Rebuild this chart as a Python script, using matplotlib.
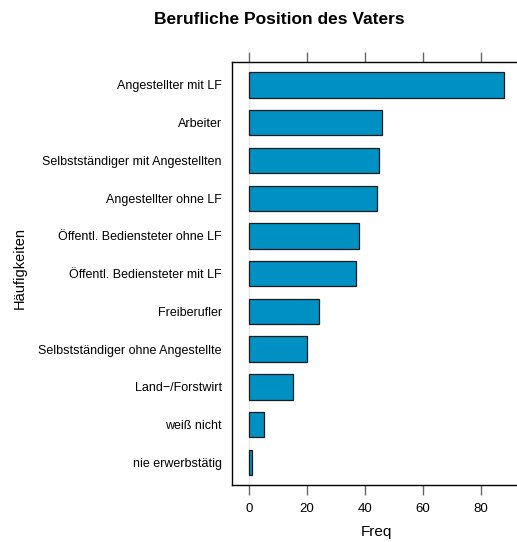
import matplotlib
matplotlib.use("Agg")
import matplotlib.pyplot as plt

plt.rcParams['font.family'] = ['Liberation Sans', 'DejaVu Sans']

# Beruf des Vaters, Häufigkeiten (von unten nach oben)
categories = [
    "nie erwerbstätig",
    "weiß nicht",
    "Land\u2212/Forstwirt",
    "Selbstständiger ohne Angestellte",
    "Freiberufler",
    "Öffentl. Bediensteter mit LF",
    "Öffentl. Bediensteter ohne LF",
    "Angestellter ohne LF",
    "Selbstständiger mit Angestellten",
    "Arbeiter",
    "Angestellter mit LF",
]
freq = [1, 5, 15, 20, 24, 37, 38, 44, 45, 46, 88]
xticks = [0, 20, 40, 60, 80]

W, H = 517, 542
fig = plt.figure(figsize=(W / 100, H / 100), dpi=100)
left, right = 231.7, 521.5
top, bottom = 62.3, 485.0
ax = fig.add_axes([left / W, 1 - bottom / H, (right - left) / W, (bottom - top) / H])

ax.axvline(0, color='#e6e6e6', lw=1, zorder=0)
pos = list(range(len(categories)))
ax.barh(pos, freq, height=0.67, color='#0091c4', edgecolor='#1a1a1a', lw=0.9, zorder=2)

ax.set_xlim(-6.1, 94.1)
ax.set_ylim(-0.6, len(categories) - 0.4)
ax.set_yticks(pos)
ax.set_yticklabels(categories, fontsize=9)
ax.tick_params(axis='y', length=0, pad=7)
ax.set_xticks(xticks)
ax.tick_params(axis='x', which='both', top=True, bottom=True, labeltop=False,
               length=7, width=1, color='#666666', labelsize=9.5, pad=6)
for s in ax.spines.values():
    s.set_linewidth(1)
    s.set_color('black')

ax.set_xlabel("Freq", fontsize=11, labelpad=7)
fig.text(20 / W, 1 - 268 / H, "Häufigkeiten", rotation=90, fontsize=10.5,
         ha='center', va='center')
fig.text(279 / W, 1 - 20 / H, "Berufliche Position des Vaters", fontsize=12.5,
         fontweight='bold', ha='center', va='center')

fig.savefig("out.png", dpi=100)
